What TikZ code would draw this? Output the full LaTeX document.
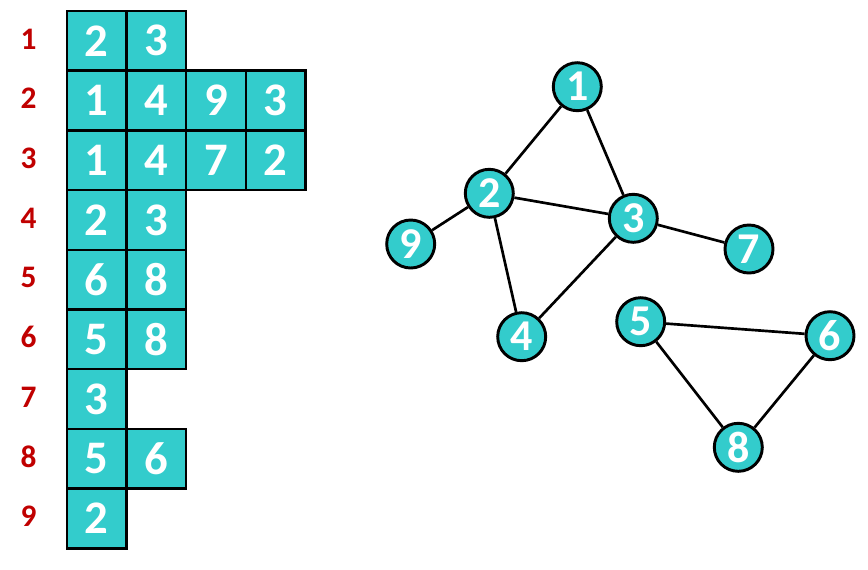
\documentclass[tikz,border=0pt]{standalone}
\usepackage{fontspec}
\setmainfont{Carlito}
\definecolor{teal1}{HTML}{33CCCC}
\definecolor{lblred}{HTML}{C00000}
\tikzset{
  cell/.style={draw=black, line width=1.9pt, fill=teal1, minimum width=59.6*0.75pt, minimum height=59.7*0.75pt, inner sep=0pt, text=white, font=\fontsize{35}{35}\selectfont\bfseries},
  rowlbl/.style={text=lblred, font=\fontsize{23.5}{23.5}\selectfont\bfseries, inner sep=0pt},
  vtx/.style={circle, draw=black, line width=2.2pt, fill=teal1, minimum size=48*0.75pt, inner sep=0pt, text=white, font=\fontsize{33}{33}\selectfont\bfseries},
  edge/.style={line width=2pt, draw=black}
}
\begin{document}
\begin{tikzpicture}[x=0.75pt,y=-0.75pt]
\useasboundingbox (0,0) rectangle (868,569);
% row labels
\foreach \i in {1,...,9} {
  \node[rowlbl] (r\i) at (28.5, {11+59.7*(\i-0.5)-2}) {\i};
}
% adjacency cells
\foreach \r/\list in {1/{2,3},2/{1,4,9,3},3/{1,4,7,2},4/{2,3},5/{6,8},6/{5,8},7/{3},8/{5,6},9/{2}} {
  \foreach \v [count=\c] in \list {
    \node[cell] (c\r-\c) at ({67+59.6*(\c-0.5)}, {11+59.7*(\r-0.5)}) {\v};
  }
}
% graph
\node[vtx] (n1) at (577.3,86.7) {1};
\node[vtx] (n2) at (489.3,193.3) {2};
\node[vtx] (n3) at (633.3,218.3) {3};
\node[vtx] (n9) at (410.7,244) {9};
\node[vtx] (n7) at (749,249) {7};
\node[vtx] (n4) at (521.7,336.7) {4};
\node[vtx] (n5) at (640.7,321.7) {5};
\node[vtx] (n6) at (830,335.7) {6};
\node[vtx] (n8) at (738.3,447.3) {8};
\draw[edge] (n1) -- (n2);
\draw[edge] (n1) -- (n3);
\draw[edge] (n2) -- (n3);
\draw[edge] (n2) -- (n9);
\draw[edge] (n2) -- (n4);
\draw[edge] (n3) -- (n4);
\draw[edge] (n3) -- (n7);
\draw[edge] (n5) -- (n6);
\draw[edge] (n5) -- (n8);
\draw[edge] (n6) -- (n8);
\end{tikzpicture}
\end{document}
